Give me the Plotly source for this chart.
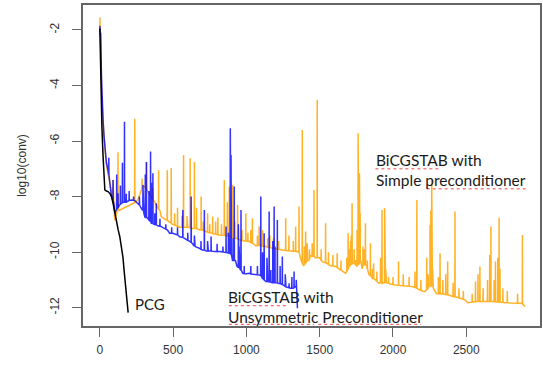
import plotly.graph_objects as go

# ---- data ----
# BiCGSTAB, simple preconditioner: slowly decaying base curve ...
orange_base_x = [0, 5, 10, 15, 20, 30, 40, 50, 60, 70, 80, 95, 102, 110, 118, 130, 150, 170, 190, 210, 230,
                 245, 260, 275, 295, 305, 325, 340, 351, 375, 396, 410, 419, 440, 470, 495, 520, 545, 580,
                 600, 625, 655, 680, 700, 720, 745, 780, 815, 858, 895, 929, 950, 980, 1019, 1050, 1064,
                 1095, 1132, 1170, 1200, 1245, 1278, 1310, 1345, 1368, 1390, 1425, 1440, 1470, 1500, 1520,
                 1550, 1580, 1608, 1630, 1660, 1676, 1700, 1730, 1750, 1780, 1789, 1800, 1820, 1835, 1855,
                 1880, 1902, 1935, 1955, 1980, 2016, 2050, 2090, 2129, 2175, 2200, 2219, 2245, 2275, 2290,
                 2300, 2330, 2350, 2385, 2400, 2435, 2470, 2491, 2510, 2575, 2605, 2627, 2655, 2680, 2710,
                 2735, 2763, 2800, 2830, 2876, 2890, 2903]
orange_base_y = [-1.55, -2.8, -4.2, -4.6, -5.2, -6.0, -6.6, -7.0, -7.3, -7.6, -7.9, -8.2, -8.85, -8.6, -8.5,
                 -8.5, -8.45, -8.4, -8.35, -8.3, -8.25, -8.2, -8.1, -7.9, -7.6, -7.65, -7.8, -7.9, -8.0,
                 -8.2, -8.4, -8.5, -8.72, -8.8, -8.9, -9.0, -9.05, -9.1, -9.1, -9.1, -9.15, -9.15, -9.2,
                 -9.2, -9.25, -9.3, -9.35, -9.38, -9.4, -9.45, -9.5, -9.55, -9.6, -9.62, -9.7, -9.78, -9.75,
                 -9.8, -9.85, -9.88, -9.92, -9.95, -9.96, -9.98, -10.2, -10.5, -10.3, -10.1, -10.2, -10.2,
                 -10.35, -10.4, -10.5, -10.52, -10.6, -10.7, -10.76, -10.5, -10.4, -10.5, -10.3, -10.6,
                 -10.4, -10.5, -10.8, -10.9, -11.0, -11.12, -11.1, -11.1, -11.15, -11.18, -11.2, -11.22,
                 -11.24, -11.35, -11.4, -11.42, -11.2, -11.3, -11.45, -11.5, -11.5, -11.52, -11.55, -11.6,
                 -11.62, -11.68, -11.72, -11.82, -11.78, -11.78, -11.78, -11.78, -11.78, -11.8, -11.8,
                 -11.82, -11.83, -11.84, -11.84, -11.9, -11.96]
# ... and its one-iteration spikes: position, peak value, value either side
orange_spike_x = [90, 124, 238, 288, 317, 362, 401, 460, 487, 510, 530, 560, 571, 595, 616, 645, 660, 691,
                  705, 735, 750, 770, 790, 805, 830, 849, 870, 883, 906, 920, 940, 970, 996, 1010, 1030,
                  1041, 1075, 1087, 1110, 1145, 1160, 1185, 1220, 1268, 1290, 1320, 1336, 1359, 1381, 1395,
                  1404, 1415, 1430, 1449, 1461, 1483, 1510, 1540, 1560, 1590, 1619, 1645, 1685, 1694, 1705,
                  1710, 1715, 1721, 1735, 1744, 1755, 1762, 1766, 1771, 1776, 1795, 1805, 1812, 1825, 1846,
                  1860, 1868, 1890, 1915, 1925, 1943, 1950, 1970, 2000, 2038, 2070, 2110, 2150, 2163, 2190,
                  2230, 2240, 2253, 2258, 2264, 2270, 2310, 2321, 2340, 2360, 2373, 2410, 2423, 2450, 2480,
                  2540, 2563, 2580, 2593, 2615, 2645, 2660, 2668, 2690, 2699, 2715, 2724, 2730, 2750, 2780,
                  2850, 2883]
orange_spike_top = [-7.4, -6.4, -5.2, -7.35, -6.75, -7.7, -7.05, -7.05, -6.97, -8.6, -8.4, -8.7, -6.5,
                    -8.7, -6.62, -6.75, -8.4, -8.0, -8.9, -8.6, -9.0, -8.72, -8.9, -8.75, -9.0, -7.4, -8.2,
                    -7.64, -7.58, -8.9, -8.3, -9.2, -8.6, -9.3, -9.2, -8.78, -9.4, -9.08, -9.2, -9.5, -9.4,
                    -9.5, -9.6, -8.78, -9.4, -9.6, -9.08, -8.36, -5.6, -9.8, -9.26, -9.68, -9.9, -9.68,
                    -7.76, -4.52, -9.9, -8.96, -10.0, -10.1, -10.04, -10.3, -10.2, -9.32, -9.9, -9.6, -9.4,
                    -8.24, -9.9, -10.28, -9.2, -5.72, -7.0, -7.16, -8.6, -9.8, -9.9, -8.96, -10.3, -9.68,
                    -10.6, -10.4, -10.7, -10.2, -8.48, -8.42, -10.6, -10.9, -10.9, -10.34, -10.8, -10.9,
                    -10.7, -8.12, -11.0, -10.2, -10.8, -9.02, -8.5, -7.4, -10.6, -10.9, -10.04, -11.0,
                    -10.8, -10.34, -11.1, -8.54, -11.3, -11.4, -11.5, -11.06, -10.8, -10.52, -11.3, -11.0,
                    -10.1, -9.08, -11.0, -10.34, -10.2, -8.76, -10.6, -11.3, -11.4, -11.5, -9.38]
orange_spike_base = [-8.1, -8.5, -8.22, -7.7, -7.7, -8.1, -8.45, -8.85, -8.95, -9.02, -9.07, -9.1, -9.1,
                     -9.1, -9.12, -9.15, -9.15, -9.2, -9.22, -9.28, -9.3, -9.33, -9.35, -9.37, -9.39, -9.4,
                     -9.42, -9.42, -9.48, -9.49, -9.52, -9.58, -9.6, -9.61, -9.65, -9.68, -9.77, -9.75,
                     -9.78, -9.82, -9.83, -9.86, -9.9, -9.94, -9.95, -9.97, -9.97, -10.0, -10.4, -10.45,
                     -10.4, -10.3, -10.25, -10.15, -10.15, -10.2, -10.3, -10.38, -10.45, -10.5, -10.55,
                     -10.65, -10.7, -10.6, -10.5, -10.45, -10.45, -10.42, -10.4, -10.45, -10.5, -10.45,
                     -10.45, -10.4, -10.4, -10.5, -10.45, -10.45, -10.6, -10.85, -10.95, -10.95, -11.05,
                     -11.1, -11.12, -11.1, -11.1, -11.12, -11.17, -11.19, -11.21, -11.23, -11.27, -11.3,
                     -11.38, -11.35, -11.3, -11.25, -11.25, -11.25, -11.25, -11.5, -11.5, -11.51, -11.53,
                     -11.54, -11.6, -11.61, -11.65, -11.7, -11.8, -11.78, -11.78, -11.78, -11.78, -11.78,
                     -11.78, -11.78, -11.78, -11.79, -11.8, -11.8, -11.8, -11.81, -11.82, -11.84, -11.86]

# BiCGSTAB, unsymmetric preconditioner
blue_base_x = [0, 3, 6, 11, 16, 22, 28, 34, 45, 56, 68, 79, 97, 102, 110, 135, 147, 160, 175, 195, 215,
               240, 260, 280, 300, 306, 330, 351, 370, 395, 419, 440, 460, 476, 498, 520, 545, 575, 589,
               610, 632, 650, 675, 702, 722, 740, 768, 790, 815, 850, 870, 883, 898, 905, 925, 935, 955,
               970, 974, 1000, 1019, 1040, 1064, 1087, 1105, 1132, 1145, 1175, 1200, 1218, 1223, 1255,
               1270, 1300, 1320, 1336, 1345, 1348]
blue_base_y = [-1.85, -2.2, -2.1, -3.7, -4.6, -5.25, -5.8, -6.3, -6.8, -7.05, -7.5, -8.0, -8.3, -8.6,
               -8.5, -8.3, -8.24, -8.2, -8.2, -8.15, -8.12, -8.15, -8.24, -8.4, -8.6, -8.72, -8.8, -8.96,
               -9.0, -9.05, -9.08, -9.15, -9.2, -9.32, -9.32, -9.35, -9.45, -9.5, -9.56, -9.6, -9.7, -9.8,
               -9.85, -9.92, -9.95, -9.96, -9.97, -9.98, -9.98, -10.0, -10.02, -10.04, -10.1, -10.3,
               -10.3, -10.5, -10.6, -10.7, -10.76, -10.78, -10.76, -10.8, -10.8, -10.82, -10.9, -11.06,
               -11.06, -11.1, -11.1, -11.12, -11.12, -11.2, -11.25, -11.3, -11.3, -11.24, -11.3, -12.02]
blue_spike_x = [61, 90, 115, 124, 140, 154, 168, 180, 200, 230, 270, 294, 310, 318, 335, 346, 355, 362,
                375, 385, 410, 450, 490, 530, 566, 600, 623, 645, 690, 713, 735, 759, 800, 840, 861, 877,
                890, 895, 910, 917, 945, 950, 963, 985, 1030, 1075, 1098, 1110, 1121, 1140, 1155, 1166,
                1180, 1189, 1195, 1211, 1230, 1245, 1265, 1291, 1310, 1325, 1340]
blue_spike_top = [-6.6, -7.4, -7.2, -7.88, -7.6, -6.78, -5.3, -7.9, -7.8, -8.0, -8.0, -7.58, -7.2, -6.75,
                  -7.8, -6.38, -7.5, -7.16, -8.6, -8.24, -8.8, -9.0, -9.1, -9.1, -8.48, -9.3, -8.0, -9.4,
                  -9.6, -8.48, -9.6, -9.44, -9.7, -9.8, -9.08, -9.3, -5.54, -6.5, -9.5, -7.64, -9.0,
                  -9.8, -8.48, -10.5, -10.5, -10.5, -8.0, -10.0, -9.32, -10.2, -8.54, -10.64, -9.6,
                  -8.36, -9.8, -8.84, -10.5, -10.16, -10.8, -11.12, -10.9, -10.7, -11.0]
blue_spike_base = [-7.2, -8.15, -8.45, -8.4, -8.28, -8.22, -8.2, -8.2, -8.14, -8.13, -8.3, -8.5, -8.75,
                   -8.75, -8.85, -8.9, -8.97, -8.98, -9.01, -9.02, -9.07, -9.17, -9.32, -9.38, -9.47,
                   -9.58, -9.65, -9.78, -9.9, -9.93, -9.96, -9.96, -9.98, -9.99, -10.01, -10.03, -10.05,
                   -10.1, -10.3, -10.3, -10.55, -10.58, -10.65, -10.77, -10.78, -10.81, -10.85, -10.95,
                   -11.0, -11.06, -11.07, -11.08, -11.1, -11.1, -11.1, -11.11, -11.13, -11.17, -11.23,
                   -11.28, -11.3, -11.28, -11.26]

# PCG
pcg_x = [0, 3, 8, 14, 22, 28, 34, 45, 56, 70, 80, 90, 102, 113, 125, 136, 145, 152, 158, 165, 172, 181, 187, 193]
pcg_y = [-1.95, -3.0, -4.5, -5.5, -6.56, -7.3, -7.76, -7.8, -7.82, -7.9, -8.0, -8.24, -8.6, -8.96, -9.2,
         -9.44, -9.7, -9.92, -10.2, -10.64, -11.0, -11.48, -11.8, -12.18]

x_ticks = [0, 500, 1000, 1500, 2000, 2500]
y_ticks = [-2, -4, -6, -8, -10, -12]


def combine(bx, by, sx, stop, sbase):
    pts = list(zip(bx, by))
    for x, t, b in zip(sx, stop, sbase):
        pts += [(x - 1, b), (x, t), (x + 1, b)]
    pts.sort(key=lambda p: p[0])
    return [p[0] for p in pts], [p[1] for p in pts]


ox, oy = combine(orange_base_x, orange_base_y, orange_spike_x, orange_spike_top, orange_spike_base)
bx, by = combine(blue_base_x, blue_base_y, blue_spike_x, blue_spike_top, blue_spike_base)

fig = go.Figure()
fig.add_trace(go.Scatter(x=ox, y=oy, mode="lines",
                         line=dict(color="rgba(255,165,0,0.85)", width=1.5), showlegend=False))
fig.add_trace(go.Scatter(x=bx, y=by, mode="lines",
                         line=dict(color="rgba(0,0,255,0.8)", width=1.5), showlegend=False))
fig.add_trace(go.Scatter(x=pcg_x, y=pcg_y, mode="lines",
                         line=dict(color="black", width=1.5), showlegend=False))

txt_font = dict(family="Lato, Open Sans, sans-serif", size=15.5, color="#1a1a1a")
fig.add_annotation(x=224, y=-11.87, text="PCG", showarrow=False, xanchor="left", yanchor="middle",
                   font=dict(family="Lato, sans-serif", size=15, color="#1a1a1a"))
fig.add_annotation(x=861, y=-11.97, text="BiCGSTAB with<br>Unsymmetric Preconditioner", showarrow=False,
                   xanchor="left", yanchor="middle", align="left", font=txt_font)
fig.add_annotation(x=1868, y=-7.05, text="BiCGSTAB with<br>Simple preconditioner", showarrow=False,
                   xanchor="left", yanchor="middle", align="left", font=txt_font)

# spell-checker squiggles under some words (as in the source screenshot)
squiggle = dict(color="rgba(230,40,40,0.85)", width=1, dash="dot")
for x0, x1, yy in [(880, 1290, -11.93), (880, 1460, -12.6), (1490, 2190, -12.6),
                   (1880, 2330, -7.0), (2230, 2920, -7.72)]:
    fig.add_shape(type="line", x0=x0, x1=x1, y0=yy, y1=yy, xref="x", yref="y", line=squiggle)

axis_common = dict(showline=True, linecolor="#666", linewidth=1.5, mirror=True, ticks="outside",
                   ticklen=9, tickwidth=1, tickcolor="#666", showgrid=False, zeroline=False,
                   tickfont=dict(family="Liberation Sans, Arial, sans-serif", size=12, color="#333"))
fig.update_xaxes(range=[-115, 3003], tickvals=x_ticks, ticktext=[str(v) for v in x_ticks],
                 ticklabelstandoff=3, **axis_common)
fig.update_yaxes(range=[-12.66, -1.10], tickvals=y_ticks, ticktext=[str(v) for v in y_ticks],
                 tickangle=-90, ticklabelstandoff=8,
                 title=dict(text="log10(conv)", standoff=19,
                            font=dict(family="Liberation Sans, Arial, sans-serif", size=12, color="#333")),
                 **axis_common)
fig.update_layout(width=543, height=365, margin=dict(l=83, r=1, t=5, b=39),
                  plot_bgcolor="white", paper_bgcolor="white")
fig.write_html("out.html", config={"displayModeBar": False},
               post_script="document.body.style.margin='0';")
